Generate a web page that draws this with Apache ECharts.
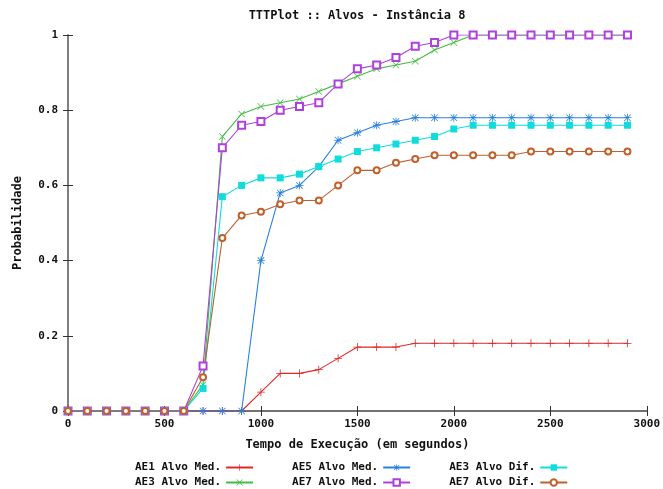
<!DOCTYPE html>
<html>
<head>
<meta charset="utf-8">
<script src="https://cdn.jsdelivr.net/npm/echarts@6/dist/echarts.min.js"></script>
<style>
html,body{margin:0;padding:0;background:#fff;}
#chart{width:663px;height:489px;}
</style>
</head>
<body>
<div id="chart"></div>
<script>
// tempo (s)
var tempos = [0,100,200,300,400,500,600,700,800,900,1000,1100,1200,1300,1400,1500,1600,1700,1800,1900,2000,2100,2200,2300,2400,2500,2600,2700,2800,2900];

var ae1Med = [0,0,0,0,0,0,0,0,0,0,0.05,0.10,0.10,0.11,0.14,0.17,0.17,0.17,0.18,0.18,0.18,0.18,0.18,0.18,0.18,0.18,0.18,0.18,0.18,0.18];
var ae3Med = [0,0,0,0,0,0,0,0.07,0.73,0.79,0.81,0.82,0.83,0.85,0.87,0.89,0.91,0.92,0.93,0.96,0.98,1,1,1,1,1,1,1,1,1];
var ae5Med = [0,0,0,0,0,0,0,0,0,0,0.40,0.58,0.60,0.65,0.72,0.74,0.76,0.77,0.78,0.78,0.78,0.78,0.78,0.78,0.78,0.78,0.78,0.78,0.78,0.78];
var ae7Med = [0,0,0,0,0,0,0,0.12,0.70,0.76,0.77,0.80,0.81,0.82,0.87,0.91,0.92,0.94,0.97,0.98,1,1,1,1,1,1,1,1,1,1];
var ae3Dif = [0,0,0,0,0,0,0,0.06,0.57,0.60,0.62,0.62,0.63,0.65,0.67,0.69,0.70,0.71,0.72,0.73,0.75,0.76,0.76,0.76,0.76,0.76,0.76,0.76,0.76,0.76];
var ae7Dif = [0,0,0,0,0,0,0,0.09,0.46,0.52,0.53,0.55,0.56,0.56,0.60,0.64,0.64,0.66,0.67,0.68,0.68,0.68,0.68,0.68,0.69,0.69,0.69,0.69,0.69,0.69];

var fonte = 'DejaVu Sans Mono';

// simbolos estilo gnuplot
var simMais = 'path://M4.5,0H5.5V10H4.5Z M0,4.5H10V5.5H0Z';
var simX = 'path://M0.7,0L10,9.3L9.3,10L0,0.7Z M9.3,0L10,0.7L0.7,10L0,9.3Z';
var simAst = 'path://M4.5,0H5.5V10H4.5Z M0,4.5H10V5.5H0Z M1.3,0.6L9.4,8.7L8.7,9.4L0.6,1.3Z M8.7,0.6L9.4,1.3L1.3,9.4L0.6,8.7Z';

function pares(ys){
	var out = [];
	for(var i=0;i<tempos.length;i++){
		out.push([tempos[i], ys[i]]);
	}
	return out;
}

function serie(nome, dados, cor, simbolo, tam, borda){
	return {
		name: nome,
		type: 'line',
		data: pares(dados),
		symbol: simbolo,
		symbolSize: tam,
		showSymbol: true,
		animation: false,
		lineStyle: {color: cor, width: 1.1},
		itemStyle: {color: cor, borderColor: cor, borderWidth: borda}
	};
}

var estiloTexto = {fontFamily: fonte, fontWeight: 'bold', fontSize: 11, color: '#111'};

var chart = echarts.init(document.getElementById('chart'));
chart.setOption({
	backgroundColor: '#fff',
	animation: false,
	title: {
		text: 'TTTPlot :: Alvos - Instância 8',
		left: 352,
		top: 5,
		textAlign: 'center',
		textStyle: {fontFamily: fonte, fontWeight: 'bold', fontSize: 12, color: '#111'}
	},
	grid: {left: 68, right: 15, top: 35, bottom: 78},
	legend: [{
		data: ['AE1 Alvo Med.', 'AE5 Alvo Med.', 'AE3 Alvo Dif.'],
		left: 130, top: 457,
		align: 'right', itemWidth: 27, itemHeight: 8, itemGap: 38,
		textStyle: estiloTexto
	},{
		data: ['AE3 Alvo Med.', 'AE7 Alvo Med.', 'AE7 Alvo Dif.'],
		left: 130, top: 472,
		align: 'right', itemWidth: 27, itemHeight: 8, itemGap: 38,
		textStyle: estiloTexto
	}],
	xAxis: [{
		type: 'value', min: 0, max: 3000, interval: 500,
		name: 'Tempo de Execução (em segundos)',
		nameLocation: 'middle', nameGap: 28,
		nameTextStyle: {fontFamily: fonte, fontWeight: 'bold', fontSize: 12, color: '#111'},
		axisLine: {lineStyle: {color: '#333', width: 1.5}},
		axisTick: {inside: true, length: 5, lineStyle: {color: '#333'}},
		axisLabel: {margin: 8, fontFamily: fonte, fontWeight: 'bold', fontSize: 11, color: '#111',
			formatter: function(v){ return String(v); }},
		splitLine: {show: false}
	},{
		type: 'value', min: 0, max: 3000, interval: 500, position: 'top',
		axisLine: {lineStyle: {color: '#777', width: 1.5}},
		axisTick: {inside: true, length: 5, lineStyle: {color: '#333'}},
		axisLabel: {show: false},
		splitLine: {show: false}
	}],
	yAxis: [{
		type: 'value', min: 0, max: 1, interval: 0.2,
		name: 'Probabilidade',
		nameLocation: 'middle', nameGap: 44, nameRotate: 90,
		nameTextStyle: {fontFamily: fonte, fontWeight: 'bold', fontSize: 12, color: '#111'},
		axisLine: {show: true, lineStyle: {color: '#777', width: 1.5}},
		axisTick: {show: true, inside: true, length: 5, lineStyle: {color: '#333'}},
		axisLabel: {margin: 10, fontFamily: fonte, fontWeight: 'bold', fontSize: 11, color: '#111'},
		splitLine: {show: false}
	},{
		type: 'value', min: 0, max: 1, interval: 0.2, position: 'right',
		axisLine: {show: true, lineStyle: {color: '#777', width: 1.5}},
		axisTick: {show: true, inside: true, length: 5, lineStyle: {color: '#333'}},
		axisLabel: {show: false},
		splitLine: {show: false}
	}],
	series: [
		serie('AE1 Alvo Med.', ae1Med, '#e02828', simMais, 8, 0),
		serie('AE3 Alvo Med.', ae3Med, '#44bb44', simX, 7, 0),
		serie('AE5 Alvo Med.', ae5Med, '#2a80e0', simAst, 8, 0),
		serie('AE7 Alvo Med.', ae7Med, '#b040dd', 'emptyRect', 7, 0.8),
		serie('AE3 Alvo Dif.', ae3Dif, '#10dcdc', 'rect', 7, 0),
		serie('AE7 Alvo Dif.', ae7Dif, '#c0602a', 'emptyCircle', 6, 0.8)
	]
});
</script>
</body>
</html>
